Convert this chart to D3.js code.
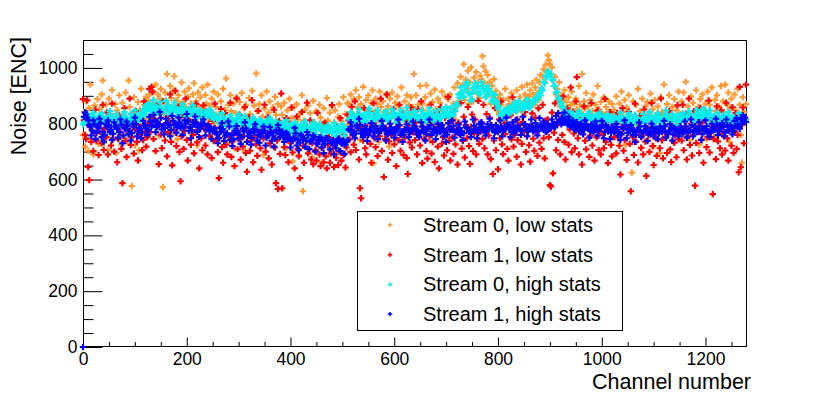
<!DOCTYPE html>
<html><head><meta charset="utf-8">
<script src="https://cdn.jsdelivr.net/npm/d3@7"></script>
<style>
html,body{margin:0;padding:0;background:#fff;}
text{font-family:"Liberation Sans",Arial,Helvetica,sans-serif;fill:#000;}
</style></head>
<body>
<svg id="c" width="830" height="399"></svg>
<script>
// ---- data ----
const seriesNames = ["Stream 0, low stats", "Stream 1, low stats", "Stream 0, high stats", "Stream 1, high stats"];
const seriesColors = ["#ff9933", "#ff0000", "#00eeee", "#0000ff"];
const xTicks = [0, 200, 400, 600, 800, 1000, 1200];
const yTicks = [0, 200, 400, 600, 800, 1000];
const lowStatsChannels = d3.range(0, 1280, 2);
const highStatsChannelsA = d3.range(0, 1280, 4);
const highStatsChannelsB = d3.range(2, 1280, 4);

const stream0Low = [
760,842,718,880,795,702,856,940,778,823,690,865,745,810,888,728,852,770,905,955,731,818,869,752,706,890,835,768,921,742,812,870,695,848,788,902,760,725,875,830,748,912,803,738,955,860,782,577,840,895,722,812,768,878,705,850,925,790,742,868,818,897,756,882,
905,872,830,918,885,798,940,862,905,758,890,925,845,573,880,912,828,978,868,805,935,892,760,918,970,855,883,745,902,868,820,948,878,790,915,860,832,896,927,810,872,768,905,945,838,880,722,912,860,895,802,930,855,785,903,872,940,818,865,752,890,838,915,802,
860,782,905,835,748,880,812,925,770,850,962,798,868,735,902,845,790,872,712,838,895,760,825,878,742,910,806,855,702,868,822,780,892,835,752,918,812,865,728,980,845,795,870,758,902,826,688,855,790,915,768,840,880,720,812,858,775,896,832,745,870,805,752,862,
832,760,875,805,712,848,782,890,738,820,665,858,795,742,870,815,688,835,775,902,558,812,850,728,790,865,702,838,768,680,882,805,748,845,790,715,868,822,660,800,855,738,782,892,812,695,840,770,862,725,805,848,690,778,825,870,742,810,765,895,720,835,790,875,
870,798,905,840,765,888,826,920,782,858,895,742,870,812,932,795,850,885,760,902,838,782,875,920,658,845,890,805,872,735,915,860,795,880,842,768,905,825,862,718,890,838,912,780,855,875,748,898,820,865,790,930,845,772,880,815,902,755,868,838,895,802,860,978,
845,902,775,868,820,935,790,872,848,760,895,938,812,865,740,908,835,878,795,922,852,768,890,830,875,802,915,845,782,898,860,752,888,820,905,842,795,872,930,815,862,945,880,905,968,912,940,1013,885,958,925,990,870,948,1002,915,880,965,935,985,908,950,892,972,
960,1042,1006,945,988,920,975,905,950,872,935,898,960,880,918,850,892,835,905,868,812,885,840,925,858,802,890,870,832,910,855,795,878,845,920,862,815,895,848,932,872,828,905,885,940,862,898,920,875,945,905,868,930,958,910,885,948,975,925,968,995,950,1012,985,
1045,1028,1015,980,1002,955,935,968,905,925,880,948,862,902,840,885,920,855,878,810,895,842,868,915,830,872,805,890,852,825,935,868,842,978,815,880,855,910,798,862,838,885,770,845,905,822,868,790,935,852,812,878,840,768,895,825,860,795,842,880,815,752,870,835,
850,782,898,820,745,872,808,915,768,842,885,725,858,795,902,830,760,625,880,815,740,868,802,925,778,845,712,890,828,765,862,805,878,742,835,908,790,852,720,885,815,770,862,830,695,895,842,785,940,812,755,870,838,902,775,820,860,735,888,810,848,768,915,825,
835,880,762,912,818,950,790,862,835,742,898,815,875,768,842,920,795,860,725,888,830,905,782,850,872,745,915,825,868,790,930,812,752,885,845,902,778,862,820,935,758,880,842,940,800,868,912,735,855,890,822,770,905,848,782,925,830,868,760,660,895,842,808,870
];

const stream1Low = [
888,812,760,745,884,645,598,790,735,815,702,768,850,740,795,688,771,822,730,868,706,785,752,840,690,808,776,722,872,748,700,815,790,662,745,830,771,710,587,798,856,738,681,805,766,890,724,752,809,693,780,845,735,668,797,760,828,705,742,880,770,718,752,801,
925,770,932,914,745,818,702,868,790,655,836,761,712,880,795,740,848,683,770,822,905,735,651,808,776,918,720,790,862,699,594,755,831,710,774,890,742,668,815,786,725,852,760,694,803,871,733,779,640,828,748,705,866,781,722,845,690,799,757,823,677,810,738,872,
742,820,698,605,785,853,716,660,770,838,725,690,801,752,875,681,736,812,648,766,890,709,745,832,671,790,718,755,860,695,628,778,822,703,740,884,662,751,808,726,685,846,770,712,635,795,747,868,700,758,823,676,730,805,654,772,850,715,587,740,566,810,692,908,
569,782,716,688,820,745,662,801,730,858,697,771,640,752,826,709,683,605,764,842,721,660,797,738,875,694,748,812,672,730,655,787,705,668,839,741,690,648,776,715,662,804,683,640,725,752,660,693,867,711,645,736,678,790,652,701,820,668,739,688,760,643,715,832,
812,744,698,861,760,725,880,706,792,835,672,569,533,781,740,856,712,690,803,765,842,728,660,795,873,748,716,831,684,770,755,890,702,818,609,745,786,905,671,737,820,760,695,852,726,780,648,809,741,868,703,762,835,688,750,812,677,620,796,733,858,715,769,828,
741,805,690,852,768,722,880,659,788,745,830,702,675,812,756,868,693,735,801,663,779,842,718,640,795,860,729,752,686,821,773,705,896,738,668,810,751,692,845,726,781,654,803,762,874,711,738,825,679,795,748,860,720,656,789,833,702,764,815,690,747,882,728,771,
802,745,868,712,780,835,690,758,821,673,794,620,740,856,705,772,637,815,748,880,726,691,802,763,845,710,668,786,830,744,895,718,760,812,682,741,867,795,654,728,806,770,842,699,755,878,723,664,791,837,746,703,822,768,685,855,732,791,710,868,748,676,812,773,
815,752,580,575,840,622,768,873,705,795,742,886,690,821,760,898,735,672,808,855,725,780,930,698,843,765,712,880,967,748,690,825,771,654,802,862,739,708,788,835,681,757,874,722,795,668,819,751,848,706,773,690,831,760,712,889,735,805,659,778,842,724,683,798,
752,810,694,838,765,721,618,788,856,703,742,815,670,780,843,728,558,796,752,688,872,735,809,661,770,828,714,757,690,851,736,613,784,822,699,761,874,720,652,805,748,685,837,769,712,890,741,676,798,753,826,695,770,845,708,663,789,818,732,757,680,866,744,791,
812,740,868,705,783,836,672,755,890,724,801,686,760,845,578,731,818,770,695,857,742,804,660,779,835,716,752,883,697,768,821,548,745,800,673,862,737,786,712,848,690,765,829,704,875,748,668,810,783,721,859,695,772,838,710,760,626,932,644,795,858,730,812,940
];

// Stream 0, high stats: channels 0,4,8,... (A) and 2,6,10,... (B)
const stream0HighA = [
798,822,835,805,825,840,810,795,830,838,812,800,828,845,815,802,835,820,795,826,842,812,805,835,820,848,828,810,840,852,862,868,
872,845,885,862,838,878,852,840,882,865,832,858,876,842,828,856,870,838,825,852,836,866,830,820,848,835,815,842,828,850,822,815,
832,815,800,838,820,792,810,830,798,785,820,835,805,790,828,812,782,802,822,795,785,815,800,775,810,790,822,798,782,808,775,795,
800,782,812,770,795,765,805,778,758,798,775,808,772,752,790,805,762,785,800,758,782,750,795,778,765,802,755,788,770,798,758,780,
815,842,828,802,835,852,812,830,805,840,855,820,808,838,848,815,795,832,845,810,825,852,838,805,830,848,815,835,858,822,808,842,
845,825,812,848,832,808,838,855,822,810,846,830,815,852,835,860,828,855,838,865,872,905,930,898,935,948,910,882,928,945,935,905,
948,925,895,935,915,880,905,872,855,830,815,848,828,858,840,865,875,845,882,862,850,875,888,858,872,885,890,900,910,928,950,972,
988,978,958,935,912,890,872,858,842,828,818,842,812,805,832,845,808,828,800,835,842,815,798,830,812,840,805,825,795,835,818,802,
828,800,818,840,808,792,825,838,805,795,832,820,788,812,835,802,822,842,810,795,828,838,808,798,830,848,815,802,835,822,795,832,
815,838,808,828,845,818,800,835,850,822,840,855,815,832,848,808,828,802,840,815,798,832,812,842,805,825,792,818,838,802,825,810
];
const stream0HighB = [
805,812,820,808,816,825,810,803,818,822,811,806,819,827,813,808,821,815,804,817,826,812,809,822,816,830,819,811,824,833,845,852,
858,849,866,855,843,861,852,847,864,856,841,853,860,846,838,851,857,844,836,849,842,855,839,833,847,840,828,843,836,848,831,826,
822,814,808,826,817,803,811,820,807,798,815,822,809,801,818,812,796,806,815,803,797,810,804,792,808,799,813,802,795,806,791,800,
795,788,801,784,792,779,797,786,775,790,783,796,781,772,788,794,777,785,791,774,783,769,787,780,776,792,771,784,778,789,773,782,
818,830,822,811,826,835,817,824,812,829,838,820,815,827,833,819,808,825,831,816,822,837,828,813,824,832,819,826,840,821,815,829,
831,822,818,834,827,815,829,838,824,817,833,826,820,836,829,842,825,838,831,847,866,893,912,896,921,938,905,887,915,932,926,908,
935,918,899,924,910,887,902,879,862,838,826,845,833,851,842,858,866,849,872,861,855,868,876,859,870,878,884,893,902,920,945,968,
985,976,957,936,914,893,876,861,846,833,826,838,822,815,829,836,818,824,812,827,833,819,808,823,817,830,814,821,809,826,818,811,
820,808,816,827,812,803,819,825,811,806,822,817,801,813,824,810,818,829,814,805,820,826,812,808,821,833,817,811,824,819,806,822,
816,827,813,821,832,818,810,825,836,822,828,840,819,826,833,815,822,811,827,818,809,824,816,828,813,821,807,819,826,812,820,815
];

// Stream 1, high stats: channels 0,4,8,... (A) and 2,6,10,... (B)
const stream1HighA = [
0,840,822,795,758,812,745,790,818,752,736,798,812,770,742,805,788,750,815,730,784,808,762,740,800,822,755,785,748,810,795,760,
825,790,832,770,805,842,780,762,818,800,755,828,795,768,822,785,760,812,835,775,748,806,826,770,752,800,815,758,792,774,745,782,
770,730,785,802,738,762,808,742,720,775,792,748,728,782,805,735,768,725,780,798,740,732,772,790,722,758,788,740,718,776,795,752,
772,735,768,748,715,740,785,722,705,760,742,718,770,710,738,758,700,728,752,715,695,748,740,708,730,690,712,745,702,728,692,735,
780,805,762,748,795,818,765,752,790,738,775,802,755,792,745,778,810,785,740,762,800,770,750,788,815,760,735,780,798,752,772,808,
790,762,752,805,775,740,788,815,760,782,745,800,770,795,755,735,802,778,812,750,772,798,760,742,808,785,770,752,815,780,748,800,
805,775,758,798,818,780,748,795,770,812,755,785,822,795,752,805,768,815,782,760,825,798,755,790,815,772,802,758,820,790,808,770,
800,782,815,795,828,838,808,822,840,805,825,790,812,778,805,772,800,762,812,785,750,798,770,808,758,788,810,748,795,772,745,790,
772,800,758,742,788,812,748,780,795,760,735,778,805,752,770,792,738,768,800,755,782,745,790,770,810,750,765,798,740,785,775,755,
790,765,808,750,775,815,755,792,770,805,742,782,812,768,752,800,778,818,760,790,802,755,815,775,795,762,810,820,788,815,830,822
];
const stream1HighB = [
825,832,812,790,775,798,768,785,802,771,760,788,795,779,764,790,783,770,797,758,781,793,775,766,789,800,772,780,768,791,784,776,
808,795,812,788,799,820,791,785,803,796,779,810,798,787,805,792,784,800,812,789,776,797,805,788,781,794,800,779,790,786,772,783,
762,748,771,780,755,766,790,759,744,768,775,761,752,772,783,757,765,749,770,778,760,754,768,775,750,763,771,758,746,769,777,762,
758,745,762,751,738,749,766,743,732,755,748,740,759,736,745,752,729,741,750,737,726,748,744,733,741,722,736,747,730,739,725,742,
778,790,771,765,784,796,773,768,781,760,777,789,770,783,766,775,792,779,763,771,786,774,768,780,795,772,761,778,784,769,776,790,
782,771,768,790,776,763,781,795,772,779,766,788,774,783,770,761,786,778,792,769,775,784,772,766,789,781,776,770,793,779,767,785,
790,778,772,786,795,781,769,784,777,791,773,780,797,784,770,788,776,793,781,775,799,786,772,783,792,779,788,774,796,783,790,778,
792,785,799,788,806,812,798,803,815,797,808,791,800,786,795,782,790,778,797,785,773,789,780,792,776,784,795,771,787,779,768,783,
776,788,770,762,781,793,767,779,785,772,760,778,790,769,775,783,761,774,787,770,779,765,782,776,791,768,773,786,762,780,775,769,
781,773,790,768,778,795,771,784,776,789,763,780,792,774,769,786,779,797,772,783,788,770,794,779,785,773,791,798,782,800,811,806
];

// ---- layout ----
const W = 830, H = 399;
const mLeft = 83, mRight = 747, mTop = 40, mBottom = 347;
const svg = d3.select("#c");
const x = d3.scaleLinear().domain([0, 1280]).range([mLeft, mRight]);
const y = d3.scaleLinear().domain([0, 1100]).range([mBottom, mTop]);

svg.append("rect").attr("width", W).attr("height", H).attr("fill", "#fff");

// frame
svg.append("rect").attr("x", mLeft + 0.5).attr("y", mTop + 0.5)
  .attr("width", mRight - mLeft - 1).attr("height", mBottom - mTop - 1)
  .attr("fill", "none").attr("stroke", "#000").attr("stroke-width", 1);

const tickFont = "17.5px";
// y axis major
const yAx = svg.append("g").attr("transform", `translate(${mLeft + 0.5},0)`)
  .call(d3.axisLeft(y).tickValues(yTicks).tickSize(-19).tickPadding(6).tickFormat(d3.format("d")));
yAx.select(".domain").remove();
yAx.selectAll("text").style("font-size", tickFont).attr("font-family", null);
// y minor
const yMinor = d3.range(0, 1101, 50).filter(v => v % 200 !== 0);
const yAm = svg.append("g").attr("transform", `translate(${mLeft + 0.5},0)`)
  .call(d3.axisLeft(y).tickValues(yMinor).tickSize(-10).tickFormat(""));
yAm.select(".domain").remove();

// x axis major
const xAx = svg.append("g").attr("transform", `translate(0,${mBottom - 0.5})`)
  .call(d3.axisBottom(x).tickValues(xTicks).tickSize(-9).tickPadding(6).tickFormat(d3.format("d")));
xAx.select(".domain").remove();
xAx.selectAll("text").style("font-size", tickFont).attr("font-family", null);
const xMinor = d3.range(0, 1281, 50).filter(v => v % 200 !== 0);
const xAm = svg.append("g").attr("transform", `translate(0,${mBottom - 0.5})`)
  .call(d3.axisBottom(x).tickValues(xMinor).tickSize(-4.5).tickFormat(""));
xAm.select(".domain").remove();
svg.selectAll(".tick line").attr("stroke", "#000");

// axis titles
svg.append("text").attr("x", 751).attr("y", 389).attr("text-anchor", "end")
  .style("font-size", "21.5px").text("Channel number");
svg.append("text").attr("transform", "translate(26,37) rotate(-90)").attr("text-anchor", "end")
  .style("font-size", "21.5px").text("Noise [ENC]");

// markers
const cross = d3.symbol().type(d3.symbolCross).size(23);
const seriesData = [
  {vals: stream0Low, ch: lowStatsChannels, c: 0},
  {vals: stream1Low, ch: lowStatsChannels, c: 1},
  {vals: stream0HighA, ch: highStatsChannelsA, c: 2},
  {vals: stream0HighB, ch: highStatsChannelsB, c: 2},
  {vals: stream1HighA, ch: highStatsChannelsA, c: 3},
  {vals: stream1HighB, ch: highStatsChannelsB, c: 3}
];
seriesData.forEach(s => {
  svg.append("g").selectAll("path").data(s.vals).join("path")
    .attr("d", cross)
    .attr("fill", seriesColors[s.c])
    .attr("transform", (v, k) => `translate(${x(s.ch[k])},${y(v)})`);
});

// legend
const lg = svg.append("g");
lg.append("rect").attr("x", 357.5).attr("y", 211.5).attr("width", 265).attr("height", 119)
  .attr("fill", "#fff").attr("stroke", "#000");
const legendCross = d3.symbol().type(d3.symbolCross).size(11);
seriesNames.forEach((n, i) => {
  const cy = 225 + i * 29.7;
  lg.append("path").attr("d", legendCross).attr("fill", seriesColors[i])
    .attr("transform", `translate(390,${cy})`);
  lg.append("text").attr("x", 423).attr("y", cy + 7).style("font-size", "20px").text(n);
});
</script>
</body></html>
